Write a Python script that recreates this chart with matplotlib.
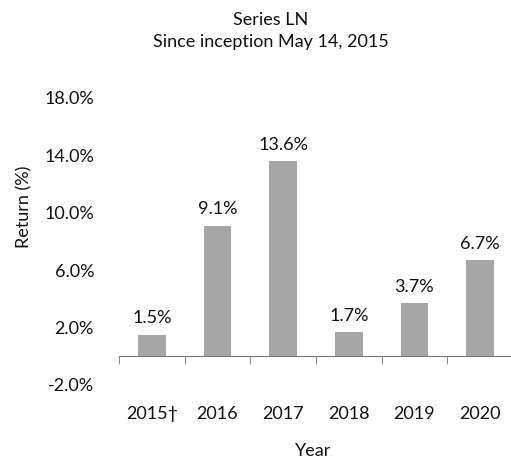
import matplotlib
matplotlib.use("Agg")
import numpy as np
from matplotlib import pyplot as plt
from matplotlib.ticker import FuncFormatter, FixedLocator

plt.rcParams["font.family"] = ["Lato", "DejaVu Sans"]

years = ["2015\u2020", "2016", "2017", "2018", "2019", "2020"]
returns = [1.5, 9.1, 13.6, 1.7, 3.7, 6.7]
y_ticks = [-2, 2, 6, 10, 14, 18]

FS = 13
TXT = "#111111"

fig = plt.figure(figsize=(5.11, 4.62), dpi=100)
ax = fig.add_axes([0.2329, 0.1667, 0.771, 0.6212])

x = np.arange(len(years))
bars = ax.bar(x, returns, width=0.42, color="#a6a6a6", zorder=2)

for b, v in zip(bars, returns):
    ax.annotate(f"{v:.1f}%", (b.get_x() + b.get_width() / 2, v),
                xytext=(0, 6), textcoords="offset points",
                ha="center", va="bottom", fontsize=FS, color=TXT)

ax.set_xlim(-0.5, len(years) - 0.5)
ax.set_ylim(-2, 18)
ax.set_yticks(y_ticks)
ax.yaxis.set_major_formatter(FuncFormatter(lambda v, p: f"{v:.1f}%"))
ax.tick_params(axis="y", length=0, pad=18, labelsize=FS, colors=TXT)

# x axis line sits at zero, tick marks between categories
for s in ["left", "right", "top"]:
    ax.spines[s].set_visible(False)
ax.spines["bottom"].set_position(("data", 0))
ax.spines["bottom"].set_color("#777777")
ax.set_xticks(x)
ax.set_xticklabels(years)
ax.xaxis.set_minor_locator(FixedLocator(np.arange(-0.5, len(years), 1.0)))
ax.tick_params(axis="x", which="minor", length=6, direction="out", color="#777777")
ax.tick_params(axis="x", which="major", length=0, pad=36, labelsize=FS, colors=TXT)

fig.text(0.0470, 0.552, "Return (%)", rotation=90, ha="center", va="center",
         fontsize=FS, color=TXT)
fig.text(0.612, 0.024, "Year", ha="center", va="center", fontsize=FS, color=TXT)
fig.text(0.53, 0.933, "Series LN\nSince inception May 14, 2015", ha="center", va="center",
         fontsize=FS, color=TXT, linespacing=1.45)

fig.savefig("out.png", dpi=100)
